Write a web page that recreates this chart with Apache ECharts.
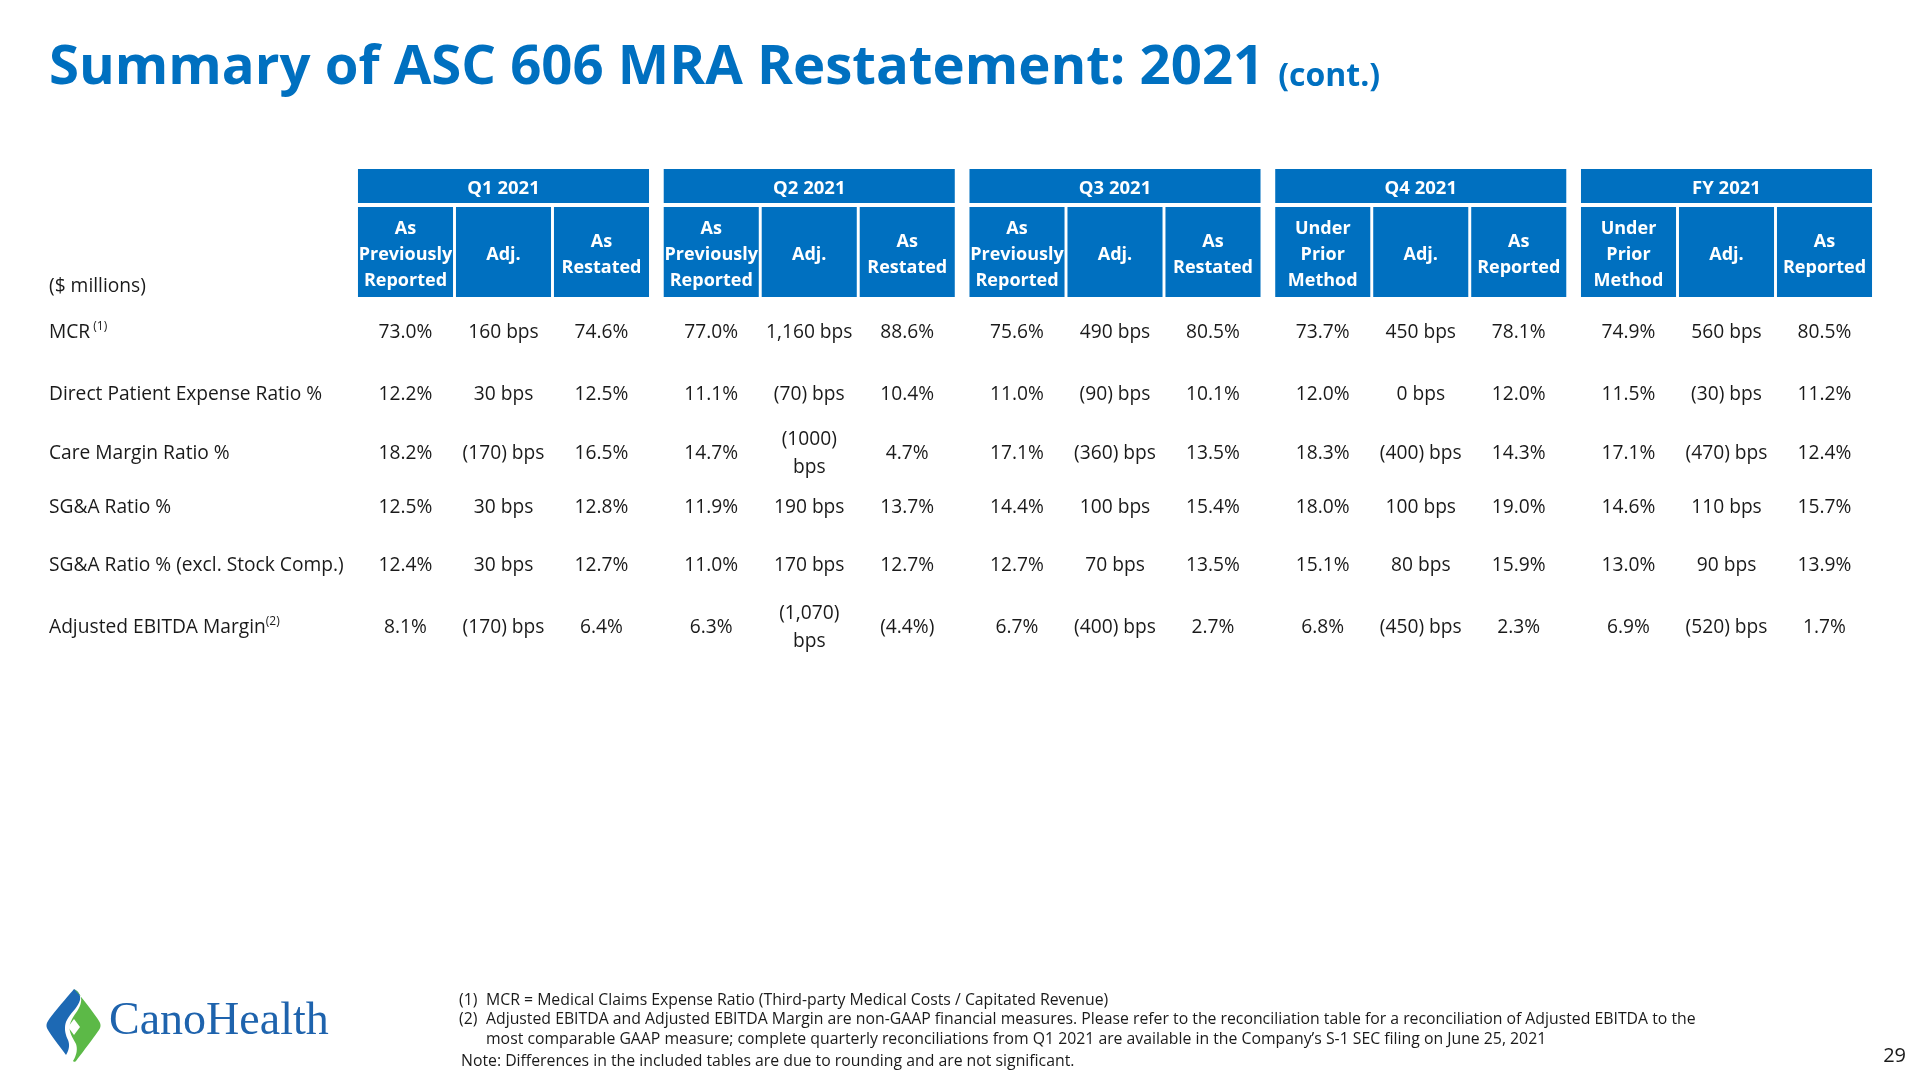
<!DOCTYPE html>
<html><head><meta charset="utf-8">
<script src="https://cdn.jsdelivr.net/npm/echarts@6/dist/echarts.min.js"></script>
<style>html,body{margin:0;padding:0;background:#fff}#c{width:1920px;height:1080px}</style>
</head><body><div id="c"></div>
<script>
// ---------------- data ----------------
const titleText = 'Summary of ASC 606 MRA Restatement: 2021';
const titleSuffix = '(cont.)';
const unitLabel = '($ millions)';
const periods = ['Q1 2021', 'Q2 2021', 'Q3 2021', 'Q4 2021', 'FY 2021'];
const restatedHeaders = ['As\nPreviously\nReported', 'Adj.', 'As\nRestated'];
const reportedHeaders = ['Under\nPrior\nMethod', 'Adj.', 'As\nReported'];
const subHeaders = [restatedHeaders, restatedHeaders, restatedHeaders, reportedHeaders, reportedHeaders];
const rowLabels = ['MCR', 'Direct Patient Expense Ratio %', 'Care Margin Ratio %', 'SG&A Ratio %', 'SG&A Ratio % (excl. Stock Comp.)', 'Adjusted EBITDA Margin'];
const rowNotes = [' (1)', '', '', '', '', '(2)'];
const q1Values = [['73.0%', '160 bps', '74.6%'], ['12.2%', '30 bps', '12.5%'], ['18.2%', '(170) bps', '16.5%'], ['12.5%', '30 bps', '12.8%'], ['12.4%', '30 bps', '12.7%'], ['8.1%', '(170) bps', '6.4%']];
const q2Values = [['77.0%', '1,160 bps', '88.6%'], ['11.1%', '(70) bps', '10.4%'], ['14.7%', '(1000)\nbps', '4.7%'], ['11.9%', '190 bps', '13.7%'], ['11.0%', '170 bps', '12.7%'], ['6.3%', '(1,070)\nbps', '(4.4%)']];
const q3Values = [['75.6%', '490 bps', '80.5%'], ['11.0%', '(90) bps', '10.1%'], ['17.1%', '(360) bps', '13.5%'], ['14.4%', '100 bps', '15.4%'], ['12.7%', '70 bps', '13.5%'], ['6.7%', '(400) bps', '2.7%']];
const q4Values = [['73.7%', '450 bps', '78.1%'], ['12.0%', '0 bps', '12.0%'], ['18.3%', '(400) bps', '14.3%'], ['18.0%', '100 bps', '19.0%'], ['15.1%', '80 bps', '15.9%'], ['6.8%', '(450) bps', '2.3%']];
const fyValues = [['74.9%', '560 bps', '80.5%'], ['11.5%', '(30) bps', '11.2%'], ['17.1%', '(470) bps', '12.4%'], ['14.6%', '110 bps', '15.7%'], ['13.0%', '90 bps', '13.9%'], ['6.9%', '(520) bps', '1.7%']];
const periodValues = [q1Values, q2Values, q3Values, q4Values, fyValues];
const footnoteMarks = ['(1)', '(2)', ''];
const footnoteLines = [
  'MCR = Medical Claims Expense Ratio (Third-party Medical Costs / Capitated Revenue)',
  'Adjusted EBITDA and Adjusted EBITDA Margin are non-GAAP financial measures. Please refer to the reconciliation table for a reconciliation of Adjusted EBITDA to the',
  'most comparable GAAP measure; complete quarterly reconciliations from Q1 2021 are available in the Company\u2019s S-1 SEC filing on June 25, 2021'
];
const noteText = 'Note: Differences in the included tables are due to rounding and are not significant.';
const logoText = 'CanoHealth';
const pageNumber = '29';

// ---------------- layout / style ----------------
const BLUE = '#0070C0';
const INK = '#1a1a1a';
const FONT = "'Open Sans', 'Noto Sans', sans-serif";
const GROUP_STEP = 3.12;     // column units between groups
const COL_W = 0.97;          // box width in column units
const HEAD_TOP = 169, HEAD_MID = 203, SUB_TOP = 207, SUB_BOTTOM = 297;
const ROW_Y = [332.5, 394.5, 453.5, 507.5, 566, 627.5];
const LABEL_X = 49;
const BODY_SIZE = 19.2;
const NOTE_SIZE = 15.8;

function colValue(g, s) { return g * GROUP_STEP + s; }

// sample a chain of cubic bezier segments into polygon points (logo shape)
function bezierPoints(start, segs) {
  const pts = [start];
  let p0 = start;
  segs.forEach(function (sg) {
    const c1 = sg[0], c2 = sg[1], p3 = sg[2];
    for (let i = 1; i <= 10; i++) {
      const t = i / 10, u = 1 - t;
      pts.push([
        u * u * u * p0[0] + 3 * u * u * t * c1[0] + 3 * u * t * t * c2[0] + t * t * t * p3[0],
        u * u * u * p0[1] + 3 * u * u * t * c1[1] + 3 * u * t * t * c2[1] + t * t * t * p3[1]
      ]);
    }
    p0 = p3;
  });
  return pts;
}
const logoBlue = bezierPoints([74, 989], [
  [[70, 994], [52, 1014], [48, 1021]],
  [[46, 1024], [46, 1027], [48, 1030]],
  [[53, 1038], [60, 1047], [66, 1055]],
  [[69, 1050], [70, 1045], [68, 1040]],
  [[65, 1034], [64, 1028], [66, 1022]],
  [[69, 1014], [78, 1008], [80, 1000]],
  [[81, 995], [78, 991], [74, 989]]
]);
const logoGreen = bezierPoints([74, 989], [
  [[79, 992], [82, 996], [81, 1002]],
  [[80, 1010], [72, 1016], [70, 1024]],
  [[68, 1032], [73, 1038], [76, 1044]],
  [[78, 1050], [76, 1056], [73, 1061]],
  [[74, 1062], [75, 1062], [76, 1061]],
  [[82, 1053], [95, 1036], [99, 1030]],
  [[101, 1027], [101, 1024], [99, 1021]],
  [[94, 1013], [80, 995], [74, 989]]
]);

const groupData = periods.map((p, g) => [g]);
const subData = [];
periods.forEach((p, g) => subHeaders[g].forEach((h, s) => subData.push([g, s])));
const labelData = rowLabels.map((l, r) => [r]);
const cellData = [];
periodValues.forEach((vals, g) => vals.forEach((row, r) => row.forEach((v, s) => cellData.push([g, s, r]))));

const chart = echarts.init(document.getElementById('c'), null, { renderer: 'canvas' });

chart.setOption({
  backgroundColor: '#ffffff',
  animation: false,
  title: {
    text: '{a|' + titleText + '}{b|' + titleSuffix + '}',
    left: 44, top: 27,
    textStyle: {
      rich: {
        a: { fontSize: 54.5, fontWeight: 'bold', color: BLUE, fontFamily: FONT, lineHeight: 72 },
        b: { fontSize: 32, fontWeight: 'bold', color: BLUE, fontFamily: FONT, lineHeight: 72, padding: [17, 0, 0, 14] }
      }
    }
  },
  grid: { left: 356.5, top: 0, width: 1517, height: 1080 },
  xAxis: { type: 'value', min: -0.5, max: 14.98, show: false },
  yAxis: { type: 'value', min: 0, max: 1080, inverse: true, show: false },
  series: [
    {
      type: 'custom', name: 'periods', data: groupData, silent: true,
      renderItem: function (params, api) {
        const g = api.value(0);
        const a = api.coord([colValue(g, 0) - COL_W / 2, HEAD_TOP]);
        const b = api.coord([colValue(g, 2) + COL_W / 2, HEAD_MID]);
        return {
          type: 'group', children: [
            { type: 'rect', shape: { x: a[0], y: a[1], width: b[0] - a[0], height: b[1] - a[1] }, style: { fill: BLUE } },
            { type: 'text', style: { text: periods[g], x: (a[0] + b[0]) / 2, y: (a[1] + b[1]) / 2 + 2.5, align: 'center', verticalAlign: 'middle', fill: '#fff', fontSize: 18.5, fontWeight: 'bold', fontFamily: FONT } }
          ]
        };
      }
    },
    {
      type: 'custom', name: 'subheaders', data: subData, silent: true,
      renderItem: function (params, api) {
        const g = api.value(0), s = api.value(1);
        const a = api.coord([colValue(g, s) - COL_W / 2, SUB_TOP]);
        const b = api.coord([colValue(g, s) + COL_W / 2, SUB_BOTTOM]);
        return {
          type: 'group', children: [
            { type: 'rect', shape: { x: a[0], y: a[1], width: b[0] - a[0], height: b[1] - a[1] }, style: { fill: BLUE } },
            { type: 'text', style: { text: subHeaders[g][s], x: (a[0] + b[0]) / 2, y: (a[1] + b[1]) / 2 + 2.5, align: 'center', verticalAlign: 'middle', fill: '#fff', fontSize: 18, fontWeight: 'bold', fontFamily: FONT, lineHeight: 26 } }
          ]
        };
      }
    },
    {
      type: 'custom', name: 'labels', data: labelData, silent: true,
      renderItem: function (params, api) {
        const r = api.value(0);
        const p = api.coord([0, ROW_Y[r]]);
        const note = rowNotes[r];
        const txt = '{n|' + rowLabels[r] + '}' + (note ? '{s|' + note + '}' : '');
        return {
          type: 'text', style: {
            text: txt, x: LABEL_X, y: p[1], align: 'left', verticalAlign: 'middle',
            rich: {
              n: { fontSize: BODY_SIZE, fontFamily: FONT, fill: INK },
              s: { fontSize: 12, fontFamily: FONT, fill: INK, padding: [0, 0, 12, 0] }
            }
          }
        };
      }
    },
    {
      type: 'custom', name: 'cells', data: cellData, silent: true,
      renderItem: function (params, api) {
        const g = api.value(0), s = api.value(1), r = api.value(2);
        const p = api.coord([colValue(g, s), ROW_Y[r]]);
        return {
          type: 'text', style: {
            text: periodValues[g][r][s], x: p[0], y: p[1], align: 'center', verticalAlign: 'middle',
            fontSize: BODY_SIZE, fontFamily: FONT, fill: INK, lineHeight: 28
          }
        };
      }
    }
  ],
  graphic: {
    elements: [
      { type: 'text', x: LABEL_X, y: 287, style: { text: unitLabel, fontSize: BODY_SIZE, fontFamily: FONT, fill: INK, align: 'left', verticalAlign: 'middle' } },
      // logo mark
      { type: 'polygon', shape: { points: logoBlue }, style: { fill: '#1d69b4' } },
      { type: 'polygon', shape: { points: logoGreen }, style: { fill: '#5cb947' } },
      { type: 'polygon', shape: { points: [[74, 1019], [80, 1027], [74, 1035], [68, 1027]] }, style: { fill: '#ffffff' } },
      { type: 'text', x: 109, y: 1022, style: { text: logoText, fontSize: 46, fontFamily: "'Liberation Serif', 'DejaVu Serif', serif", fill: '#1e63ad', align: 'left', verticalAlign: 'middle' } },
      // footnotes
      { type: 'text', x: 459, y: 1000, style: { text: footnoteMarks[0], fontSize: NOTE_SIZE, fontFamily: FONT, fill: INK, verticalAlign: 'middle' } },
      { type: 'text', x: 486, y: 1000, style: { text: footnoteLines[0], fontSize: NOTE_SIZE, fontFamily: FONT, fill: INK, verticalAlign: 'middle' } },
      { type: 'text', x: 459, y: 1019, style: { text: footnoteMarks[1], fontSize: NOTE_SIZE, fontFamily: FONT, fill: INK, verticalAlign: 'middle' } },
      { type: 'text', x: 486, y: 1019, style: { text: footnoteLines[1], fontSize: NOTE_SIZE, fontFamily: FONT, fill: INK, verticalAlign: 'middle' } },
      { type: 'text', x: 486, y: 1039, style: { text: footnoteLines[2], fontSize: NOTE_SIZE, fontFamily: FONT, fill: INK, verticalAlign: 'middle' } },
      { type: 'text', x: 461, y: 1061, style: { text: noteText, fontSize: NOTE_SIZE, fontFamily: FONT, fill: INK, verticalAlign: 'middle' } },
      { type: 'text', x: 1906, y: 1056, style: { text: pageNumber, fontSize: 20, fontFamily: FONT, fill: INK, align: 'right', verticalAlign: 'middle' } }
    ]
  }
});
</script></body></html>
